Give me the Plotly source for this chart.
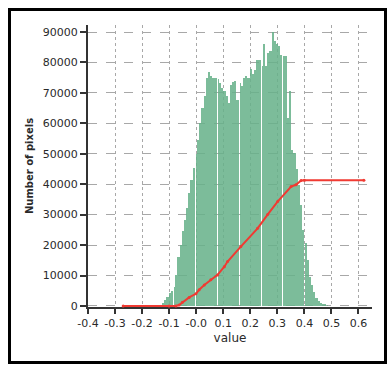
import plotly.graph_objects as go

# Histogram of pixel values: fixed-width bins starting at bin_start
bin_start = -0.1265
bin_width = 0.0081
pixel_counts = [
    1000, 1800, 2800, 4200, 4800, 6300, 10200, 16000, 20000, 24500,
    28300, 32100, 37000, 41400, 45300, 50000, 54600, 60000, 65000, 69000,
    75000, 76800, 75500, 74800, 75000, 74600, 73200, 71600, 70500, 68900,
    66700, 72700, 73500, 73800, 67800, 73200, 72100, 74900, 75700, 74900,
    77800, 76200, 77600, 80900, 80900, 78700, 85900, 78700, 83100, 83700,
    90000, 87000, 85900, 85300, 82600, 82100, 82100, 61700, 70500, 51300,
    50300, 45000, 39800, 33000, 25000, 20600, 15100, 9600, 7000, 4500,
    2500, 1600, 1100, 800, 500, 250,
]

# Cumulative curve
cum_values = [-0.27, -0.10, -0.075, -0.063, -0.051, -0.026, -0.001, 0.011, 0.030,
              0.054, 0.079, 0.104, 0.116, 0.165, 0.227, 0.264, 0.301, 0.351,
              0.369, 0.388, 0.400, 0.620]
cum_counts = [0, 0, 0, 300, 1200, 2800, 4000, 5300, 6900, 8600, 10200, 12900,
              14600, 19500, 25500, 30000, 34300, 39200, 39800, 41200, 41300, 41300]

x_tick_vals = [-0.4, -0.3, -0.2, -0.1, 0.0, 0.1, 0.2, 0.3, 0.4, 0.5, 0.6]
x_tick_text = ["-0.4", "-0.3", "-0.2", "-0.1", "-0.0", "0.1", "0.2", "0.3", "0.4", "0.5", "0.6"]
y_tick_vals = [0, 10000, 20000, 30000, 40000, 50000, 60000, 70000, 80000, 90000]

# bar geometry: left edges, with a thin white seam every 10 bins
edges = [bin_start + i * bin_width for i in range(len(pixel_counts))]
seam = 0.0035
offsets, widths = [], []
for i in range(len(pixel_counts)):
    if i % 10 == 5:
        offsets.append(seam)
        widths.append(bin_width - seam)
    else:
        offsets.append(0.0)
        widths.append(bin_width)

fig = go.Figure()
fig.add_trace(go.Bar(
    x=edges, y=pixel_counts, offset=offsets, width=widths,
    marker=dict(color="rgba(102,177,137,0.86)", line=dict(width=0)),
    hoverinfo="skip",
))
fig.add_trace(go.Scatter(
    x=cum_values, y=cum_counts, mode="lines+markers",
    line=dict(color="#f03a32", width=2),
    marker=dict(color="#f03a32", size=3),
    cliponaxis=False,
))

font = "DejaVu Sans"
W, H = 388, 365
L, R, T, B = 88, 16, 25, 58
pw, ph = W - L - R, H - T - B


def px(x):
    return (x - L) / pw


def py(y):
    return (H - B - y) / ph


fig.update_layout(
    width=W, height=H,
    margin=dict(l=L, r=R, t=T, b=B),
    paper_bgcolor="white", plot_bgcolor="white",
    showlegend=False, bargap=0,
    font=dict(family=font, size=11, color="#2a2a2a"),
    shapes=[dict(type="rect", xref="paper", yref="paper",
                 x0=px(9.5), x1=px(385.5), y0=py(362.5), y1=py(9.5),
                 line=dict(color="black", width=3), layer="below")],
)
fig.update_xaxes(
    range=[-0.4, 0.65], tickvals=x_tick_vals, ticktext=x_tick_text,
    showline=True, linecolor="#333", linewidth=2, layer="below traces",
    ticks="outside", ticklen=5, tickcolor="#333", tickwidth=1.5,
    showgrid=True, gridcolor="#a8a8a8", griddash="dot", gridwidth=1,
    zeroline=False,
    title=dict(text="value", font=dict(size=12, family=font), standoff=4),
    tickfont=dict(size=11, family=font),
)
fig.update_yaxes(
    range=[-350, 92300], tickvals=y_tick_vals, tickformat="d",
    showline=True, linecolor="#333", linewidth=2,
    ticks="outside", ticklen=6, tickcolor="#333", tickwidth=1.5,
    showgrid=True, gridcolor="#a8a8a8", griddash="dash", gridwidth=1,
    zeroline=False,
    title=dict(text="<b>Number of pixels</b>", font=dict(size=10, family=font), standoff=7),
    tickfont=dict(size=11, family=font),
)

fig.write_html("out.html")
